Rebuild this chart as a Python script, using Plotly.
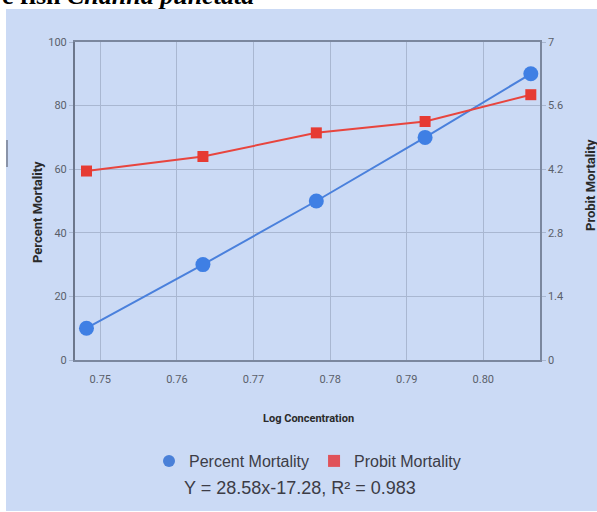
import plotly.graph_objects as go

# Log concentration of the toxicant and the observed responses
log_conc = [0.7482, 0.7634, 0.7782, 0.7924, 0.8062]
percent_mortality = [10, 30, 50, 70, 90]
probit_mortality = [4.16, 4.48, 5.00, 5.25, 5.84]
x_ticks = [0.75, 0.76, 0.77, 0.78, 0.79, 0.80]
left_ticks = [0, 20, 40, 60, 80, 100]
right_ticks = [0, 1.4, 2.8, 4.2, 5.6, 7]
right_labels = ["0", "1.4", "2.8", "4.2", "5.6", "7"]
equation = "Y = 28.58x-17.28, R² = 0.983"

W, H = 597, 512
L, R, T, B = 75, 540, 42, 360   # plot-area pixel bounds


def px(xp):
    return (xp - L) / (R - L)


def py(yp):
    return (B - yp) / (B - T)


BG = "#cbdaf5"
GRID = "#a9b7d1"
AXIS = "#7b879e"
TICK_FONT = dict(family="Roboto, Arial", size=11, color="#5a5f6a")
BLUE = "#3f7fe4"
RED = "#e63b33"

fig = go.Figure()

fig.add_trace(go.Scatter(
    x=log_conc, y=percent_mortality, mode="lines+markers",
    line=dict(color="#4a80dc", width=2),
    marker=dict(symbol="circle", size=15, color=BLUE),
    showlegend=False, cliponaxis=False,
))
fig.add_trace(go.Scatter(
    x=log_conc, y=probit_mortality, mode="lines+markers", yaxis="y2",
    line=dict(color="#e8453e", width=2),
    marker=dict(symbol="square", size=11, color=RED),
    showlegend=False, cliponaxis=False,
))

# legend entries show only the marker symbol
fig.add_trace(go.Scatter(x=[None], y=[None], mode="markers", name="Percent Mortality",
                         marker=dict(symbol="circle", size=8, color="#4a80d8")))
fig.add_trace(go.Scatter(x=[None], y=[None], mode="markers", name="Probit Mortality",
                         marker=dict(symbol="square", size=7, color="#e0525a")))

fig.update_layout(
    width=W, height=H,
    margin=dict(l=L, r=W - R, t=T, b=H - B, pad=0),
    paper_bgcolor="white",
    plot_bgcolor=BG,
    showlegend=True,
    legend=dict(
        orientation="h", x=0.5, xanchor="center", y=py(461), yanchor="middle",
        bgcolor="rgba(0,0,0,0)",
        font=dict(family="Liberation Sans, Arial", size=16, color="#3c3c46"),
        itemsizing="constant", itemwidth=30, tracegroupgap=0,
    ),
    xaxis=dict(
        range=[0.7467, 0.8074], tickvals=x_ticks, ticktext=[f"{v:.2f}" for v in x_ticks],
        showgrid=True, gridcolor=GRID, gridwidth=1, zeroline=False,
        showline=True, linecolor=AXIS, linewidth=1.5, mirror=True,
        ticks="", tickfont=TICK_FONT, ticklabelstandoff=8,
    ),
    yaxis=dict(
        range=[0, 100], tickvals=left_ticks,
        showgrid=True, gridcolor=GRID, gridwidth=1, zeroline=False,
        showline=True, linecolor="#6c778c", linewidth=2,
        ticks="outside", ticklen=4, tickcolor=GRID, tickfont=TICK_FONT,
    ),
    yaxis2=dict(
        range=[0, 7], overlaying="y", side="right", tickvals=right_ticks, ticktext=right_labels,
        showgrid=False, zeroline=False,
        showline=True, linecolor=AXIS, linewidth=1.5,
        ticks="outside", ticklen=4, tickcolor=GRID, tickfont=TICK_FONT,
    ),
)

# light blue card behind the whole chart
fig.add_shape(type="rect", xref="paper", yref="paper",
              x0=px(6), x1=px(W + 5), y0=py(511), y1=py(9),
              fillcolor=BG, line=dict(width=0), layer="below")
# small dark mark on the left edge
fig.add_shape(type="line", xref="paper", yref="paper",
              x0=px(7), x1=px(7), y0=py(140), y1=py(167),
              line=dict(color="#8a93a8", width=2))


def label(text, xp, yp, font, angle=0):
    fig.add_annotation(text=text, xref="paper", yref="paper", x=px(xp), y=py(yp),
                       xanchor="center", yanchor="middle", textangle=angle,
                       showarrow=False, font=font)


TITLE_FONT = dict(family="Roboto, Arial", size=11, color="#2a2a2a")
SIDE_FONT = dict(family="Roboto, Arial", size=13, color="#2a2a2a")
label("<b>Log Concentration</b>", 308, 418, TITLE_FONT)
label("<b>Percent Mortality</b>", 37, 212, SIDE_FONT, -90)
label("<b>Probit Mortality</b>", 590, 185, SIDE_FONT, -90)
label(equation, 300, 488, dict(family="Liberation Sans, Arial", size=18, color="#3c3c46"))

# caption running off the top edge
fig.add_annotation(text="<b>e fish <i>Channa punctata</i></b>", xref="paper", yref="paper",
                   x=px(0), y=py(12), xanchor="left", yanchor="bottom", showarrow=False,
                   font=dict(family="Liberation Serif, Times New Roman, serif", size=26, color="black"))

fig.write_html("out.html")
